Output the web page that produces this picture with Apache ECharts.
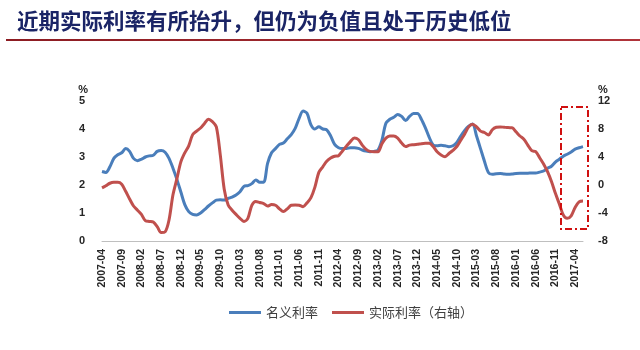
<!DOCTYPE html>
<html>
<head>
<meta charset="utf-8">
<script src="https://cdn.jsdelivr.net/npm/echarts@6/dist/echarts.min.js"></script>
<style>
  html, body { margin: 0; padding: 0; background: #ffffff; }
  #chart { width: 640px; height: 350px; }
</style>
</head>
<body>
<div id="chart"></div>
<script>
// Monthly observations, 2007-04 … 2017-06
const startYear = 2007, startMonth = 4, monthCount = 123;
const months = [];
for (let k = 0; k < monthCount; k++) {
  const m = startMonth - 1 + k;
  const y = startYear + Math.floor(m / 12);
  const mm = (m % 12) + 1;
  months.push(y + '-' + (mm < 10 ? '0' + mm : mm));
}

// 名义利率 (%, left axis)
const nominalRate = [
  2.48, 2.45, 2.65, 2.95, 3.08, 3.15, 3.30, 3.20, 2.95, 2.87,
  2.92, 3.00, 3.04, 3.06, 3.20, 3.23, 3.17, 2.95, 2.60, 2.20,
  1.75, 1.30, 1.05, 0.95, 0.93, 1.00, 1.12, 1.25, 1.36, 1.46,
  1.47, 1.46, 1.52, 1.57, 1.64, 1.76, 1.95, 1.98, 2.05, 2.18,
  2.10, 2.10, 2.77, 3.15, 3.30, 3.45, 3.50, 3.65, 3.80, 4.02,
  4.38, 4.64, 4.56, 4.15, 4.00, 4.08, 4.00, 3.97, 3.75, 3.45,
  3.33, 3.30, 3.30, 3.33, 3.33, 3.31, 3.25, 3.21, 3.19, 3.20,
  3.25, 3.60, 4.20, 4.35, 4.42, 4.52, 4.45, 4.30, 4.45, 4.55,
  4.55, 4.35, 4.05, 3.70, 3.43, 3.40, 3.42, 3.40, 3.37, 3.40,
  3.52, 3.75, 3.95, 4.10, 4.18, 3.75, 3.30, 2.85, 2.45, 2.38,
  2.40, 2.41, 2.39, 2.38, 2.39, 2.41, 2.42, 2.42, 2.42, 2.43,
  2.43, 2.46, 2.50, 2.60, 2.67, 2.82, 2.92, 3.03, 3.10, 3.18,
  3.28, 3.33, 3.37
];

// 实际利率 (%, right axis)
const realRate = [
  -0.40, -0.10, 0.25, 0.38, 0.38, 0.10, -0.90, -2.00, -3.00, -3.60,
  -4.20, -5.10, -5.20, -5.30, -5.95, -6.80, -6.70, -5.00, -1.40, 0.90,
  3.30, 4.60, 5.60, 7.20, 7.70, 8.15, 8.80, 9.40, 9.05, 8.30,
  4.30, -0.60, -2.86, -3.60, -4.20, -4.76, -5.20, -4.76, -2.90, -2.35,
  -2.50, -2.65, -3.00, -2.80, -2.90, -3.40, -3.80, -3.40, -2.90, -2.86,
  -2.90, -3.10, -2.55, -1.80, -0.30, 1.80, 2.60, 3.40, 3.85, 4.10,
  4.19, 4.86, 5.55, 6.20, 6.70, 6.50, 5.70, 5.10, 4.80, 4.76,
  4.76, 5.90, 6.70, 7.00, 7.00, 6.70, 6.00, 5.50, 5.70, 5.75,
  5.81, 5.90, 5.95, 5.95, 5.50, 4.75, 4.30, 4.05, 4.50, 4.95,
  5.50, 6.40, 7.30, 8.30, 8.67, 8.30, 7.70, 7.50, 7.14, 7.90,
  8.25, 8.30, 8.25, 8.20, 8.19, 7.60, 7.00, 6.55, 5.70, 4.90,
  4.76, 3.90, 3.00, 1.90, 0.50, -1.19, -2.70, -4.29, -4.76, -4.40,
  -3.20, -2.40, -2.30
];

const leftTicks = { min: 0, max: 5, interval: 1 };
const rightTicks = { min: -8, max: 12, interval: 4 };

const titleText = '近期实际利率有所抬升，但仍为负值且处于历史低位';
const seriesNames = ['名义利率', '实际利率（右轴）'];

const chart = echarts.init(document.getElementById('chart'));

const axisLabelStyle = {
  color: '#262626',
  fontSize: 11,
  fontWeight: 'bold',
  fontFamily: 'Liberation Sans, Arial, sans-serif'
};

chart.setOption({
  backgroundColor: '#ffffff',
  animation: false,
  title: {
    text: titleText,
    left: 12,
    top: 5,
    textStyle: {
      color: '#1a2466',
      fontSize: 21.5,
      fontWeight: 'bold',
      fontFamily: 'Noto Sans CJK SC'
    }
  },
  graphic: [
    {
      // rule beneath the heading
      type: 'rect',
      shape: { x: 6, y: 39, width: 634, height: 2 },
      style: {
        fill: new echarts.graphic.LinearGradient(0, 0, 1, 0, [
          { offset: 0, color: '#8c1c22' },
          { offset: 1, color: '#b0343a' }
        ])
      },
      silent: true
    },
    {
      // highlight frame around the latest months
      type: 'rect',
      shape: { x: 561, y: 107, width: 27, height: 122 },
      style: {
        fill: 'none',
        stroke: '#d01010',
        lineWidth: 2,
        lineDash: [7, 3, 2, 3]
      },
      silent: true,
      z: 10
    }
  ],
  grid: { left: 102, right: 57, top: 101, bottom: 109 },
  legend: {
    bottom: 26,
    left: 224,
    itemWidth: 32,
    itemHeight: 3,
    itemGap: 14,
    icon: 'rect',
    textStyle: { color: '#404040', fontSize: 13, fontFamily: 'Noto Sans CJK SC' },
    data: seriesNames
  },
  xAxis: {
    type: 'category',
    data: months,
    boundaryGap: false,
    axisLine: { lineStyle: { color: '#bfbfbf', width: 1 } },
    axisTick: { show: false },
    axisLabel: Object.assign({}, axisLabelStyle, {
      rotate: 90,
      interval: 4,
      fontSize: 10.5,
      margin: 8
    })
  },
  yAxis: [
    {
      type: 'value',
      name: '%',
      nameLocation: 'end',
      nameGap: 6,
      nameTextStyle: Object.assign({}, axisLabelStyle, { align: 'right', padding: [0, 14, 0, 0] }),
      min: leftTicks.min, max: leftTicks.max, interval: leftTicks.interval,
      axisLine: { show: false },
      axisTick: { show: false },
      splitLine: { show: false },
      axisLabel: Object.assign({}, axisLabelStyle, { margin: 17 })
    },
    {
      type: 'value',
      name: '%',
      nameLocation: 'end',
      nameGap: 6,
      nameTextStyle: Object.assign({}, axisLabelStyle, { align: 'left', padding: [0, 0, 0, 15] }),
      min: rightTicks.min, max: rightTicks.max, interval: rightTicks.interval,
      axisLine: { show: false },
      axisTick: { show: false },
      splitLine: { show: false },
      axisLabel: Object.assign({}, axisLabelStyle, { margin: 15 })
    }
  ],
  series: [
    {
      name: seriesNames[0],
      type: 'line',
      yAxisIndex: 0,
      data: nominalRate,
      smooth: 0.3,
      symbol: 'none',
      lineStyle: { color: '#4a7ebb', width: 3 },
      itemStyle: { color: '#4a7ebb' }
    },
    {
      name: seriesNames[1],
      type: 'line',
      yAxisIndex: 1,
      data: realRate,
      smooth: 0.3,
      symbol: 'none',
      lineStyle: { color: '#c0504d', width: 3 },
      itemStyle: { color: '#c0504d' }
    }
  ]
});
</script>
</body>
</html>
